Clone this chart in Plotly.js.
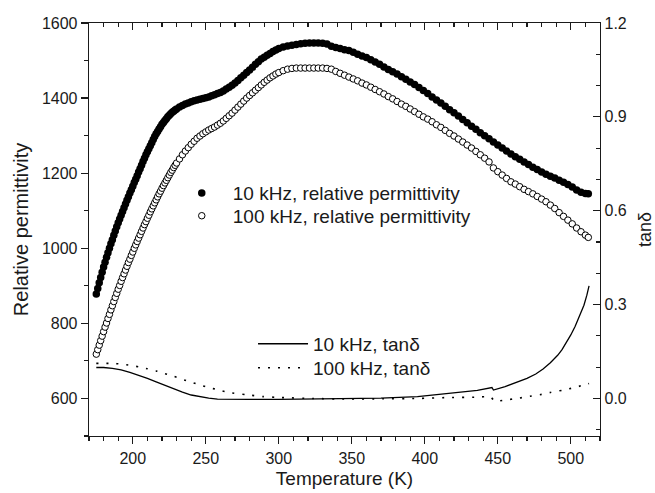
<!DOCTYPE html>
<html>
<head>
<meta charset="utf-8">
<script src="https://cdn.plot.ly/plotly-3.0.1.min.js"></script>
<style>html,body{margin:0;padding:0;background:#fff;}#chart{width:655px;height:493px;}</style>
</head>
<body>
<div id="chart"></div>
<script>
// Temperatures (K) for the permittivity series
var temps = [
  175,176,177,178,179,180,181,182,183,184,185,186,187,188,189,190,191,192,193,194,195,196,197,198,199,200,
  201,202,203,204,205,206,207,208,209,210,211,212,213,214,215,216,217,218,219,220,221,222,223,224,225,226,227,228,229,230,
  232,234,236,238,240,242,244,246,248,250,252,254,256,258,260,262,264,266,268,270,272,274,276,278,280,282,284,286,288,290,292,294,296,298,300,
  303,306,309,312,315,318,321,324,327,330,333,336,339,342,345,348,351,354,357,360,363,366,369,372,375,378,381,384,387,390,
  393,396,399,402,405,408,411,414,417,420,423,426,429,432,435,438,441,444,447,450,453,456,459,462,465,468,471,474,477,480,
  483,486,489,492,495,498,501,504,507,510,512
];
// 10 kHz relative permittivity
var eps10k = [
  878,893,908,922,936,950,963,976,988,1000,1012,1023,1035,1046,1057,1068,1078,1088,1098,1108,1118,1128,1137,1147,1156,1165,
  1175,1184,1193,1203,1212,1221,1231,1240,1249,1257,1265,1273,1281,1290,1298,1305,1311,1318,1324,1330,1335,1340,1345,1350,1354,1358,1362,1365,1368,1371,
  1376,1380,1384,1387,1390,1393,1395,1397,1399,1401,1403,1406,1409,1412,1415,1419,1424,1429,1434,1440,1447,1454,1461,1468,1475,1482,1490,1497,1504,1509,1514,1519,1524,1528,1532,
  1536,1539,1541,1543,1545,1546,1547,1547,1547,1546,1544,1538,1535,1532,1529,1527,1522,1517,1512,1508,1502,1496,1490,1483,1476,1470,1464,1457,1450,1443,
  1436,1428,1420,1412,1403,1395,1387,1378,1369,1361,1352,1343,1334,1325,1317,1308,1300,1292,1283,1275,1267,1259,1251,1244,1237,1230,1223,1216,1210,1203,
  1197,1192,1187,1181,1176,1170,1163,1155,1149,1146,1145
];
// 100 kHz relative permittivity
var eps100k = [
  718,730,742,754,766,778,790,801,813,824,836,847,858,869,880,891,901,912,922,932,942,952,962,971,981,990,
  1000,1009,1018,1027,1036,1045,1054,1063,1071,1080,1088,1097,1105,1113,1121,1129,1137,1145,1152,1160,1167,1174,1181,1188,1195,1202,1208,1215,1221,1227,
  1238,1249,1259,1268,1277,1285,1293,1299,1305,1310,1315,1319,1323,1328,1333,1339,1346,1353,1360,1368,1376,1384,1392,1400,1407,1414,1421,1428,1435,1442,1448,1454,1459,1464,1468,
  1473,1477,1479,1480,1480,1480,1480,1480,1480,1480,1479,1477,1471,1466,1461,1456,1451,1446,1440,1435,1429,1423,1417,1411,1404,1398,1391,1384,1378,1371,
  1364,1357,1350,1344,1337,1329,1322,1314,1306,1299,1291,1283,1275,1267,1258,1249,1240,1230,1214,1204,1195,1186,1177,1171,1164,1157,1151,1145,1138,1131,
  1124,1115,1106,1095,1085,1075,1065,1054,1044,1035,1029
];
// 10 kHz tan delta
var tanT10k = [175,180,186,192,198,204,210,216,222,228,234,240,246,252,258,265,280,300,320,345,370,395,417,436,446,447,455,463,470,476,481,486,491,494,497,500,503,506,509,511,512.5];
var tan10k  = [0.099,0.099,0.096,0.091,0.083,0.074,0.064,0.053,0.042,0.030,0.020,0.011,0.005,0.001,-0.002,-0.003,-0.003,-0.003,-0.002,-0.001,0.001,0.006,0.016,0.026,0.035,0.027,0.038,0.051,0.064,0.078,0.094,0.114,0.138,0.156,0.178,0.203,0.231,0.262,0.298,0.330,0.360];
// 100 kHz tan delta
var tanT100k = [175,186,192,198,204,210,216,222,228,234,240,246,252,258,266,278,289,301,323,347,371,395,417,435,445,448,455,463,472,480,486,494,502,508,512.5];
var tan100k  = [0.112,0.112,0.110,0.106,0.101,0.095,0.088,0.079,0.071,0.061,0.052,0.043,0.035,0.028,0.019,0.012,0.006,0.003,0.000,-0.002,-0.001,0.000,0.003,0.004,0.005,-0.009,-0.005,0.000,0.007,0.013,0.019,0.026,0.034,0.042,0.048];

var FONT = 'Liberation Sans, Arial, Helvetica, sans-serif';
var INK = '#1a1a1a';

var traces = [
  {x: temps, y: eps10k, type: 'scatter', mode: 'markers', name: '10 kHz, relative permittivity',
   marker: {symbol: 'circle', size: 7.5, color: '#000', line: {width: 0}}, legend: 'legend', xaxis: 'x', yaxis: 'y'},
  {x: temps, y: eps100k, type: 'scatter', mode: 'markers', name: '100 kHz, relative permittivity',
   marker: {symbol: 'circle', size: 6.5, color: '#fff', line: {width: 1, color: '#000'}}, legend: 'legend2', xaxis: 'x', yaxis: 'y'},
  {x: tanT10k, y: tan10k, type: 'scatter', mode: 'lines', name: '10 kHz, tanδ',
   line: {color: '#000', width: 1.3}, legend: 'legend3', xaxis: 'x2', yaxis: 'y2'},
  {x: tanT100k, y: tan100k, type: 'scatter', mode: 'lines', name: '100 kHz, tanδ',
   line: {color: '#000', width: 1.6, dash: '2px,8px', shape: 'spline', smoothing: 0.5}, legend: 'legend4', xaxis: 'x2', yaxis: 'y2'}
];

function legendAt(x, y, w) {
  return {x: x, y: y, xanchor: 'left', yanchor: 'top', bgcolor: 'rgba(0,0,0,0)', borderwidth: 0,
          itemwidth: w, tracegroupgap: 0, font: {size: 19, family: FONT, color: INK}};
}

var layout = {
  width: 655, height: 493,
  margin: {l: 89, r: 55, t: 23, b: 57, pad: 0},
  paper_bgcolor: '#fff', plot_bgcolor: '#fff',
  font: {family: FONT, color: INK, size: 16},
  showlegend: true,
  xaxis: {
    range: [170, 520], tick0: 0, dtick: 50, ticks: 'outside', ticklen: 7, tickwidth: 1.2, tickcolor: INK,
    minor: {dtick: 10, tick0: 0, ticks: 'outside', ticklen: 4, tickwidth: 1.1, tickcolor: INK},
    showline: true, linecolor: INK, linewidth: 1.3, showgrid: false, zeroline: false,
    tickfont: {size: 16, family: FONT, color: INK},
    title: {text: 'Temperature (K)', font: {size: 19, family: FONT, color: INK}, standoff: 6},
    anchor: 'y', automargin: false
  },
  xaxis2: {
    matches: 'x', overlaying: 'x', side: 'top', anchor: 'y2',
    range: [170, 520], tick0: 0, dtick: 50, ticks: 'inside', ticklen: 7, tickwidth: 1.2, tickcolor: INK,
    minor: {dtick: 10, tick0: 0, ticks: 'inside', ticklen: 4, tickwidth: 1.1, tickcolor: INK},
    showticklabels: false, showline: true, linecolor: INK, linewidth: 1.3, showgrid: false, zeroline: false
  },
  yaxis: {
    range: [500, 1600], tick0: 0, dtick: 200, ticks: 'outside', ticklen: 7, tickwidth: 1.2, tickcolor: INK,
    minor: {dtick: 100, tick0: 0, ticks: 'outside', ticklen: 4, tickwidth: 1.1, tickcolor: INK},
    showline: true, linecolor: INK, linewidth: 1.3, showgrid: false, zeroline: false,
    tickfont: {size: 16, family: FONT, color: INK},
    title: {text: 'Relative permittivity', font: {size: 20, family: FONT, color: INK}, standoff: 8},
    anchor: 'x', automargin: false
  },
  yaxis2: {
    overlaying: 'y', side: 'right', anchor: 'x2',
    range: [-0.12, 1.2], tick0: 0, dtick: 0.3, tickformat: '.1f', ticks: 'inside', ticklen: 7, tickwidth: 1.2, tickcolor: INK,
    minor: {dtick: 0.1, tick0: 0, ticks: 'inside', ticklen: 4, tickwidth: 1.1, tickcolor: INK},
    showline: true, linecolor: INK, linewidth: 1.3, showgrid: false, zeroline: false,
    tickfont: {size: 16, family: FONT, color: INK},
    title: {text: 'tanδ', font: {size: 18, family: FONT, color: INK}, standoff: 12},
    automargin: false
  },
  legend: legendAt(0.16, 0.634, 52),
  legend2: legendAt(0.16, 0.579, 52),
  legend3: legendAt(0.321, 0.269, 50),
  legend4: legendAt(0.321, 0.211, 50)
};

Plotly.newPlot('chart', traces, layout, {displayModeBar: false, staticPlot: true});
</script>
</body>
</html>
